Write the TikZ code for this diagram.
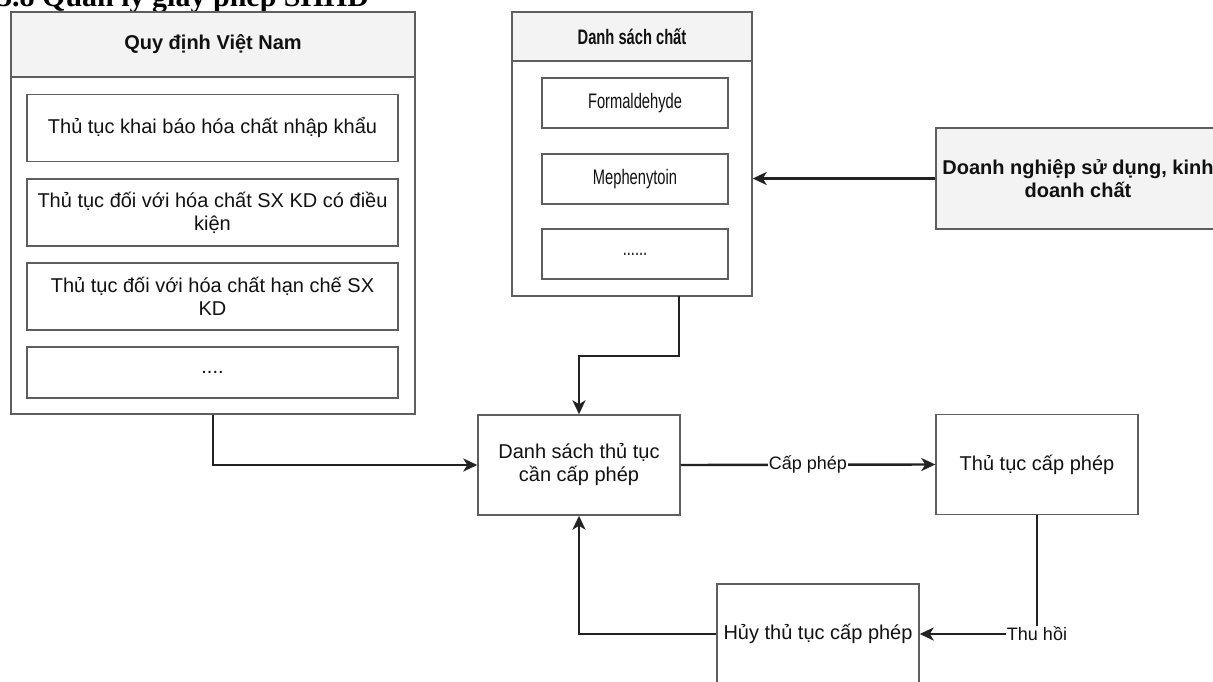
\documentclass[tikz,border=0pt]{standalone}
\usepackage{fontspec}
\setmainfont{Liberation Sans}
\newfontfamily\narrowfont[FakeStretch=0.7]{Liberation Sans}
\newfontfamily\headfont{Liberation Serif}
\usetikzlibrary{arrows.meta}
\definecolor{boxline}{HTML}{5E5E5E}
\definecolor{headfill}{HTML}{F3F3F3}
\definecolor{linkline}{HTML}{222222}
\definecolor{txt}{HTML}{111111}

\begin{document}
\begin{tikzpicture}[x=1pt,y=-1pt,
  box/.style={rectangle,draw=boxline,line width=1.4pt,inner sep=0pt,align=center,text=txt,font=\fontsize{20}{23}\selectfont},
  head/.style={box,fill=headfill,font=\fontsize{20}{23}\selectfont\bfseries},
  item/.style={box,minimum width=371pt,minimum height=67pt},
  chem/.style={box,minimum width=186pt,minimum height=50pt,font=\narrowfont\fontsize{21}{24}\selectfont},
  proc/.style={box,minimum width=202pt,minimum height=100pt},
  link/.style={draw=linkline,line width=2.4pt,-{Stealth[length=14pt,width=13pt,inset=4pt]}},
  tag/.style={fill=white,inner sep=1pt,text=txt,font=\fontsize{18}{21}\selectfont}]
  \useasboundingbox (0,0) rectangle (1213,682);

  % heading cut by the top edge
  \node[anchor=base west,inner sep=0pt,font=\headfont\fontsize{30}{34}\selectfont\bfseries] (title) at (-3,7) {3.8 Quản lý giấy phép SHHD};

  % Quy dinh Viet Nam
  \node[head,minimum width=404pt,minimum height=65pt] (qdhead) at (213,44.5) {Quy định Việt Nam};
  \node[box,minimum width=404pt,minimum height=337pt] (qdbody) at (213,245.5) {};
  \node[item] (qd1) at (212.5,128) {Thủ tục khai báo hóa chất nhập khẩu};
  \node[item] (qd2) at (212.5,212.5) {Thủ tục đối với hóa chất SX KD có điều\\kiện};
  \node[item] (qd3) at (212.5,296.5) {Thủ tục đối với hóa chất hạn chế SX\\KD};
  \node[item,minimum height=51pt] (qd4) at (212.5,372.5) {....};

  % Danh sach chat
  \node[head,minimum width=240pt,minimum height=49pt,font=\narrowfont\fontsize{21}{24}\selectfont\bfseries] (dschead) at (632,36.5) {Danh sách chất};
  \node[box,minimum width=240pt,minimum height=235pt] (dscbody) at (632,178.5) {};
  \node[chem] (dsc1) at (635,103) {Formaldehyde};
  \node[chem] (dsc2) at (635,179) {Mephenytoin};
  \node[chem] (dsc3) at (635,254) {......};
  \coordinate (dscout) at (679,296);

  \node[head,minimum width=284pt,minimum height=101pt] (dn) at (1078,178.5) {Doanh nghiệp sử dụng, kinh\\doanh chất};

  % thu tuc
  \node[proc] (dstt) at (579,465) {Danh sách thủ tục\\cần cấp phép};
  \node[proc] (tcp) at (1037,464.5) {Thủ tục cấp phép};
  \node[proc] (huy) at (818,634) {Hủy thủ tục cấp phép};

  \draw[link] (dn.west) -- (dscbody.east);
  \draw[link] (dscout) -- ++(0,60) -| (dstt.north);
  \draw[link] (qdbody.south) |- (dstt.west);
  \draw[link] (dstt.east) -- node[tag] {Cấp phép} (tcp.west);
  \draw[link] (tcp.south) |- node[tag,pos=0.5] {Thu hồi} (huy.east);
  \draw[link] (huy.west) -| (dstt.south);
\end{tikzpicture}
\end{document}
